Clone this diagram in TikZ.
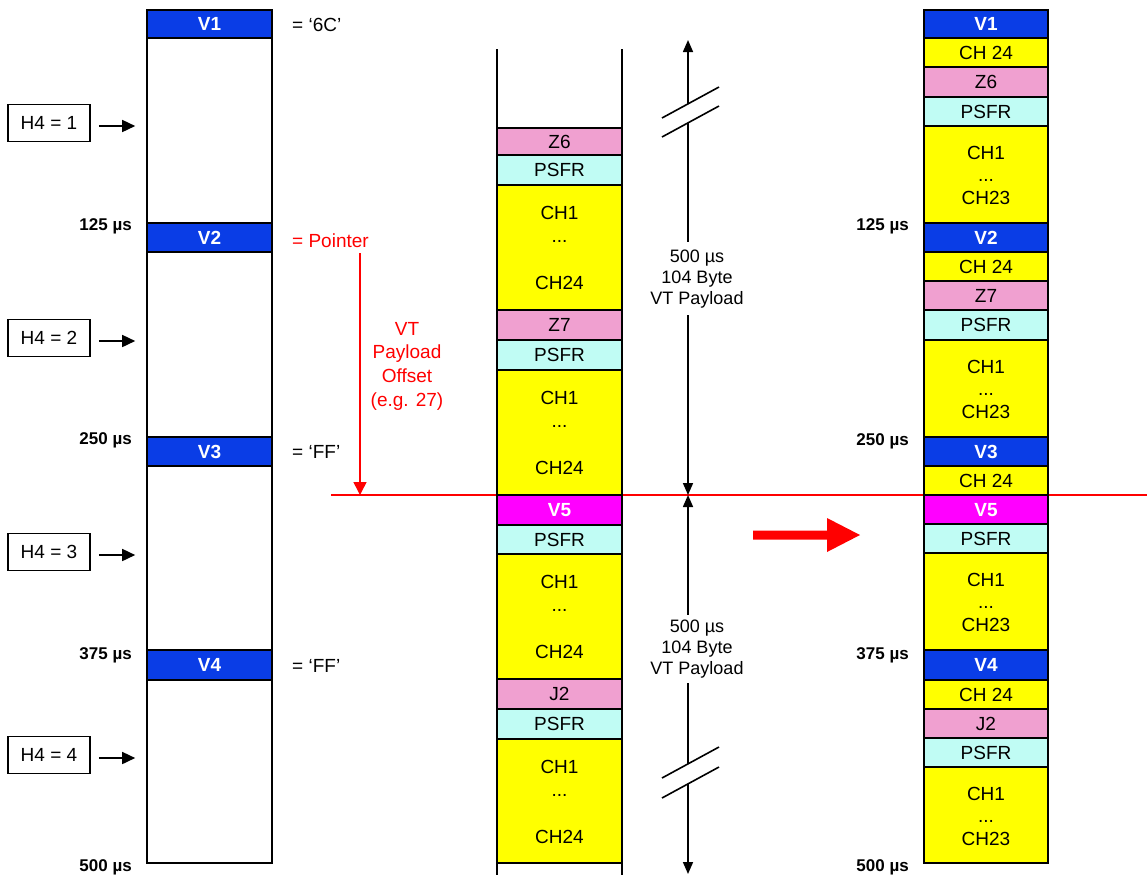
\documentclass[tikz,border=0pt]{standalone}
\usepackage{fontspec}
\setmainfont{Liberation Sans}
\usetikzlibrary{arrows.meta,calc}
\definecolor{vblue}{RGB}{10,61,230}
\definecolor{zpink}{RGB}{240,160,208}
\definecolor{pcyan}{RGB}{192,252,244}
\definecolor{chy}{RGB}{255,255,0}
\definecolor{vmag}{RGB}{255,0,255}
\definecolor{rred}{RGB}{255,0,0}
\tikzset{dtip/.tip={Triangle[length=12pt,width=10pt]}}
\newcommand\fs{\fontsize{19}{22}\selectfont}
% name, xleft, xright, top, bottom, fill, text
\newcommand\cellbox[7]{\node[cell, fill=#6, minimum width={#3-#2}, minimum height={#5-#4}] (#1) at ({(#2+#3)/2},{(#4+#5)/2}) {#7};}
\newcommand\vl[1]{{\color{white}\bfseries #1}}
\newcommand\midch[1]{%
  \node[lbl] at ([yshift=-28pt]#1.north) {CH1};
  \node[lbl, anchor=base, text height=, text depth=] at ([yshift=-58.5pt]#1.north) {...};
  \node[lbl] at ([yshift=-98pt]#1.north) {CH24};}
\newcommand\rightch[1]{%
  \node[lbl] at ([yshift=-27pt]#1.north) {CH1};
  \node[lbl, anchor=base, text height=, text depth=] at ([yshift=-56pt]#1.north) {...};
  \node[lbl] at ([yshift=-72pt]#1.north) {CH23};}
\begin{document}
\begin{tikzpicture}[x=1pt,y=-1pt,
  cell/.style={draw=black, line width=1.6pt, inner sep=0pt, text height=13.6pt, text depth=0pt, font=\fs},
  lbl/.style={inner sep=0pt, text height=13.6pt, text depth=0pt, font=\fs},
  tlab/.style={inner sep=0pt, anchor=east, text height=12.2pt, text depth=0pt, font=\bfseries\fontsize{17}{20}\selectfont},
  hbox/.style={draw=black, line width=1.6pt, minimum width=82pt, minimum height=37pt, inner sep=0pt, text height=13.6pt, text depth=0pt, font=\fs},
  harr/.style={line width=1.6pt, -{Triangle[length=13pt,width=12pt]}},
  darr/.style={line width=1.6pt},
  brk/.style={line width=1.6pt},
  redline/.style={rred, line width=1.3pt},
]
\useasboundingbox (0,0) rectangle (1147,876);

% ---------- red horizontal line (behind columns)
\coordinate (rl1) at (331,495);
\coordinate (rl2) at (1147,495);
\draw[redline] (rl1) -- (rl2);

% ---------- left column
\node[draw=black, line width=1.6pt, minimum width=125pt, minimum height=853pt, inner sep=0pt] (lcol) at (209.5,436.5) {};
\cellbox{lv1}{147}{272}{10}{38}{vblue}{\vl{V1}}
\cellbox{lv2}{147}{272}{223}{252}{vblue}{\vl{V2}}
\cellbox{lv3}{147}{272}{437}{466}{vblue}{\vl{V3}}
\cellbox{lv4}{147}{272}{650}{680}{vblue}{\vl{V4}}

\node[tlab] (lt1) at (132,224) {125 µs};
\node[tlab] (lt2) at (132,438) {250 µs};
\node[tlab] (lt3) at (132,653) {375 µs};
\node[tlab] (lt4) at (132,865) {500 µs};

\node[hbox] (h1) at (49,123) {H4 = 1};
\node[hbox] (h2) at (49,338) {H4 = 2};
\node[hbox] (h3) at (49,552) {H4 = 3};
\node[hbox] (h4) at (49,755) {H4 = 4};
\foreach \h in {h1,h2,h3,h4}{
  \draw[harr] ($(\h.east)+(8,3)$) -- ($(lcol.west|-\h.east)+(-11,3)$);
}

\node[lbl, anchor=west] (l6c) at (292,25) {= ‘6C’};
\node[lbl, anchor=west, text=rred] (lptr) at (292,241) {= Pointer};
\node[lbl, anchor=west] (lff1) at (292,452) {= ‘FF’};
\node[lbl, anchor=west] (lff2) at (292,666) {= ‘FF’};

% red pointer arrow
\coordinate (pA) at (360,253);
\coordinate (pB) at (360,495);
\draw[rred, line width=1.5pt, -{Triangle[length=13pt,width=13pt]}] (pA) -- (pB);
\node[align=center, text=rred, inner sep=0pt, font=\fontsize{19}{23.7}\selectfont] (offs) at (407,366) {VT\\Payload\\Offset\\(e.g. 27)};

% ---------- middle column
\coordinate (m1t) at (497,49); \coordinate (m1b) at (497,875);
\coordinate (m2t) at (622,49); \coordinate (m2b) at (622,875);
\draw[line width=1.6pt] (m1t) -- (m1b);
\draw[line width=1.6pt] (m2t) -- (m2b);
\cellbox{mz6}{497}{622}{128}{155}{zpink}{Z6}
\cellbox{mps1}{497}{622}{155}{185}{pcyan}{PSFR}
\cellbox{mch1}{497}{622}{185}{310}{chy}{}
\cellbox{mz7}{497}{622}{310}{340}{zpink}{Z7}
\cellbox{mps2}{497}{622}{340}{370}{pcyan}{PSFR}
\cellbox{mch2}{497}{622}{370}{495}{chy}{}
\cellbox{mv5}{497}{622}{495}{525}{vmag}{\vl{V5}}
\cellbox{mps3}{497}{622}{525}{554}{pcyan}{PSFR}
\cellbox{mch3}{497}{622}{554}{679}{chy}{}
\cellbox{mj2}{497}{622}{679}{709}{zpink}{J2}
\cellbox{mps4}{497}{622}{709}{739}{pcyan}{PSFR}
\cellbox{mch4}{497}{622}{739}{863}{chy}{}
\midch{mch1}\midch{mch2}\midch{mch3}\midch{mch4}

% ---------- dimension arrows
\coordinate (a1) at (688,40);  \coordinate (a2) at (688,104);
\coordinate (a3) at (688,123); \coordinate (a4) at (688,242);
\coordinate (a5) at (688,315); \coordinate (a6) at (688,495);
\draw[darr, {dtip}-] (a1) -- (a2);
\draw[darr] (a3) -- (a4);
\draw[darr, -{dtip}] (a5) -- (a6);
\coordinate (b1) at (688,495); \coordinate (b2) at (688,615);
\coordinate (b3) at (688,683); \coordinate (b4) at (688,764);
\coordinate (b5) at (688,784); \coordinate (b6) at (688,874);
\draw[darr, {dtip}-] (b1) -- (b2);
\draw[darr] (b3) -- (b4);
\draw[darr, -{dtip}] (b5) -- (b6);
\draw[brk] (662,118) -- (719,87);
\draw[brk] (662,137) -- (719,106);
\draw[brk] (662,778) -- (719,747);
\draw[brk] (662,798) -- (719,767);
\node[align=center, inner sep=0pt, font=\fontsize{18}{21}\selectfont] (dim1) at (697,279) {500 µs\\104 Byte\\VT Payload};
\node[align=center, inner sep=0pt, font=\fontsize{18}{21}\selectfont] (dim2) at (697,649) {500 µs\\104 Byte\\VT Payload};

% ---------- big red arrow
\fill[rred] (753,530.5) -- (827,530.5) -- (827,518) -- (860,535) -- (827,552) -- (827,539.5) -- (753,539.5) -- cycle;

% ---------- right column
\cellbox{rv1}{924}{1048}{10}{38}{vblue}{\vl{V1}}
\cellbox{rc1}{924}{1048}{38}{67}{chy}{CH 24}
\cellbox{rz6}{924}{1048}{67}{97}{zpink}{Z6}
\cellbox{rps1}{924}{1048}{97}{126}{pcyan}{PSFR}
\cellbox{rch1}{924}{1048}{126}{223}{chy}{}
\cellbox{rv2}{924}{1048}{223}{252}{vblue}{\vl{V2}}
\cellbox{rc2}{924}{1048}{252}{281}{chy}{CH 24}
\cellbox{rz7}{924}{1048}{281}{310}{zpink}{Z7}
\cellbox{rps2}{924}{1048}{310}{340}{pcyan}{PSFR}
\cellbox{rch2}{924}{1048}{340}{437}{chy}{}
\cellbox{rv3}{924}{1048}{437}{466}{vblue}{\vl{V3}}
\cellbox{rc3}{924}{1048}{466}{495}{chy}{CH 24}
\cellbox{rv5}{924}{1048}{495}{524}{vmag}{\vl{V5}}
\cellbox{rps3}{924}{1048}{524}{553}{pcyan}{PSFR}
\cellbox{rch3}{924}{1048}{553}{650}{chy}{}
\cellbox{rv4}{924}{1048}{650}{680}{vblue}{\vl{V4}}
\cellbox{rc4}{924}{1048}{680}{709}{chy}{CH 24}
\cellbox{rj2}{924}{1048}{709}{738}{zpink}{J2}
\cellbox{rps4}{924}{1048}{738}{767}{pcyan}{PSFR}
\cellbox{rch4}{924}{1048}{767}{863}{chy}{}
\rightch{rch1}\rightch{rch2}\rightch{rch3}\rightch{rch4}

\node[tlab] (rt1) at (909,224) {125 µs};
\node[tlab] (rt2) at (909,439) {250 µs};
\node[tlab] (rt3) at (909,653) {375 µs};
\node[tlab] (rt4) at (909,865) {500 µs};
\end{tikzpicture}
\end{document}
